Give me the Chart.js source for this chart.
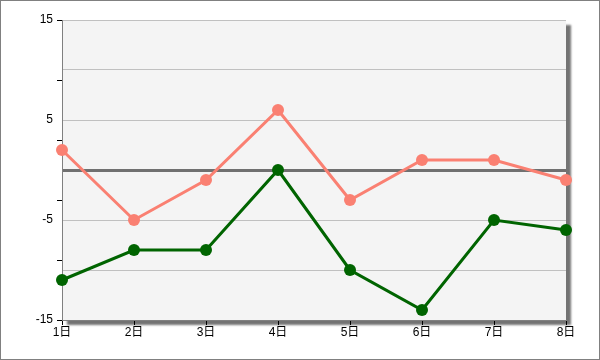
<!DOCTYPE html>
<html>
<head>
<meta charset="utf-8">
<script src="https://cdn.jsdelivr.net/npm/chart.js@4"></script>
<style>
body{margin:0;background:#fff}
#wrap{width:598px;height:358px;border:1px solid #808080;position:relative}
</style>
</head>
<body>
<div id="wrap"><canvas id="chart" width="598" height="358"></canvas></div>
<script>
const labels = ['1日', '2日', '3日', '4日', '5日', '6日', '7日', '8日']
const serieA = [2, -5, -1, 6, -3, 1, 1, -1]
const serieB = [-11, -8, -8, 0, -10, -14, -5, -6]
const yLabels = [15, 5, -5, -15]
const yTickMarks = [15, 9, 3, -3, -9, -15]

const fonte = {family: "'Liberation Sans', 'Noto Sans CJK JP', sans-serif", size: 12}

// fundo cinza com sombra + marcas do eixo y
const fundo = {
    id: 'fundo',
    beforeDraw(chart){
        const {ctx, chartArea: a} = chart
        ctx.save()
        ctx.shadowColor = 'rgba(0,0,0,0.55)'
        ctx.shadowOffsetX = 5
        ctx.shadowOffsetY = 5
        ctx.shadowBlur = 2
        ctx.fillStyle = '#f4f4f4'
        ctx.fillRect(a.left, a.top, a.right-a.left, a.bottom-a.top)
        ctx.restore()
    },
    afterDraw(chart){
        const {ctx, chartArea: a} = chart
        const y = chart.scales.y
        ctx.save()
        ctx.strokeStyle = '#000'
        ctx.lineWidth = 1
        for(let v of yTickMarks){
            let py = Math.round(y.getPixelForValue(v)) + 0.5
            ctx.beginPath()
            ctx.moveTo(a.left-5, py)
            ctx.lineTo(a.left, py)
            ctx.stroke()
        }
        ctx.restore()
    }
}

const ctx = document.getElementById('chart').getContext('2d')
const myChart = new Chart(ctx, {
    type: 'line',
    data: {
        labels: labels,
        datasets: [
            {
                data: serieB,
                borderColor: '#006400',
                backgroundColor: '#006400',
                borderWidth: 3,
                pointRadius: 6,
                pointBorderWidth: 0,
                pointHoverRadius: 6,
                clip: false
            },
            {
                data: serieA,
                borderColor: '#fa8072',
                backgroundColor: '#fa8072',
                borderWidth: 3,
                pointRadius: 6,
                pointBorderWidth: 0,
                pointHoverRadius: 6,
                clip: false
            }
        ]
    },
    options: {
        responsive: false,
        animation: false,
        layout: {padding: {top: 19, right: 33, left: 0, bottom: 0}},
        plugins: {legend: {display: false}, tooltip: {enabled: false}},
        scales: {
            x: {
                offset: false,
                grid: {drawOnChartArea: false, drawTicks: true, tickLength: 5, tickColor: '#000'},
                border: {color: '#808080'},
                ticks: {color: '#000', font: fonte, padding: 0, maxRotation: 0},
                afterFit(scale){ scale.height = 39 }
            },
            y: {
                min: -15,
                max: 15,
                grid: {
                    drawTicks: false,
                    color: c => c.tick.value == 0 ? '#707070' : (c.tick.value == -15 ? 'rgba(0,0,0,0)' : '#c0c0c0'),
                    lineWidth: c => c.tick.value == 0 ? 3 : 1
                },
                border: {color: '#808080'},
                ticks: {
                    stepSize: 5,
                    color: '#000',
                    font: fonte,
                    padding: 9,
                    callback: v => yLabels.includes(v) ? v : ''
                },
                afterFit(scale){ scale.width = 61 }
            }
        }
    },
    plugins: [fundo]
})
</script>
</body>
</html>
